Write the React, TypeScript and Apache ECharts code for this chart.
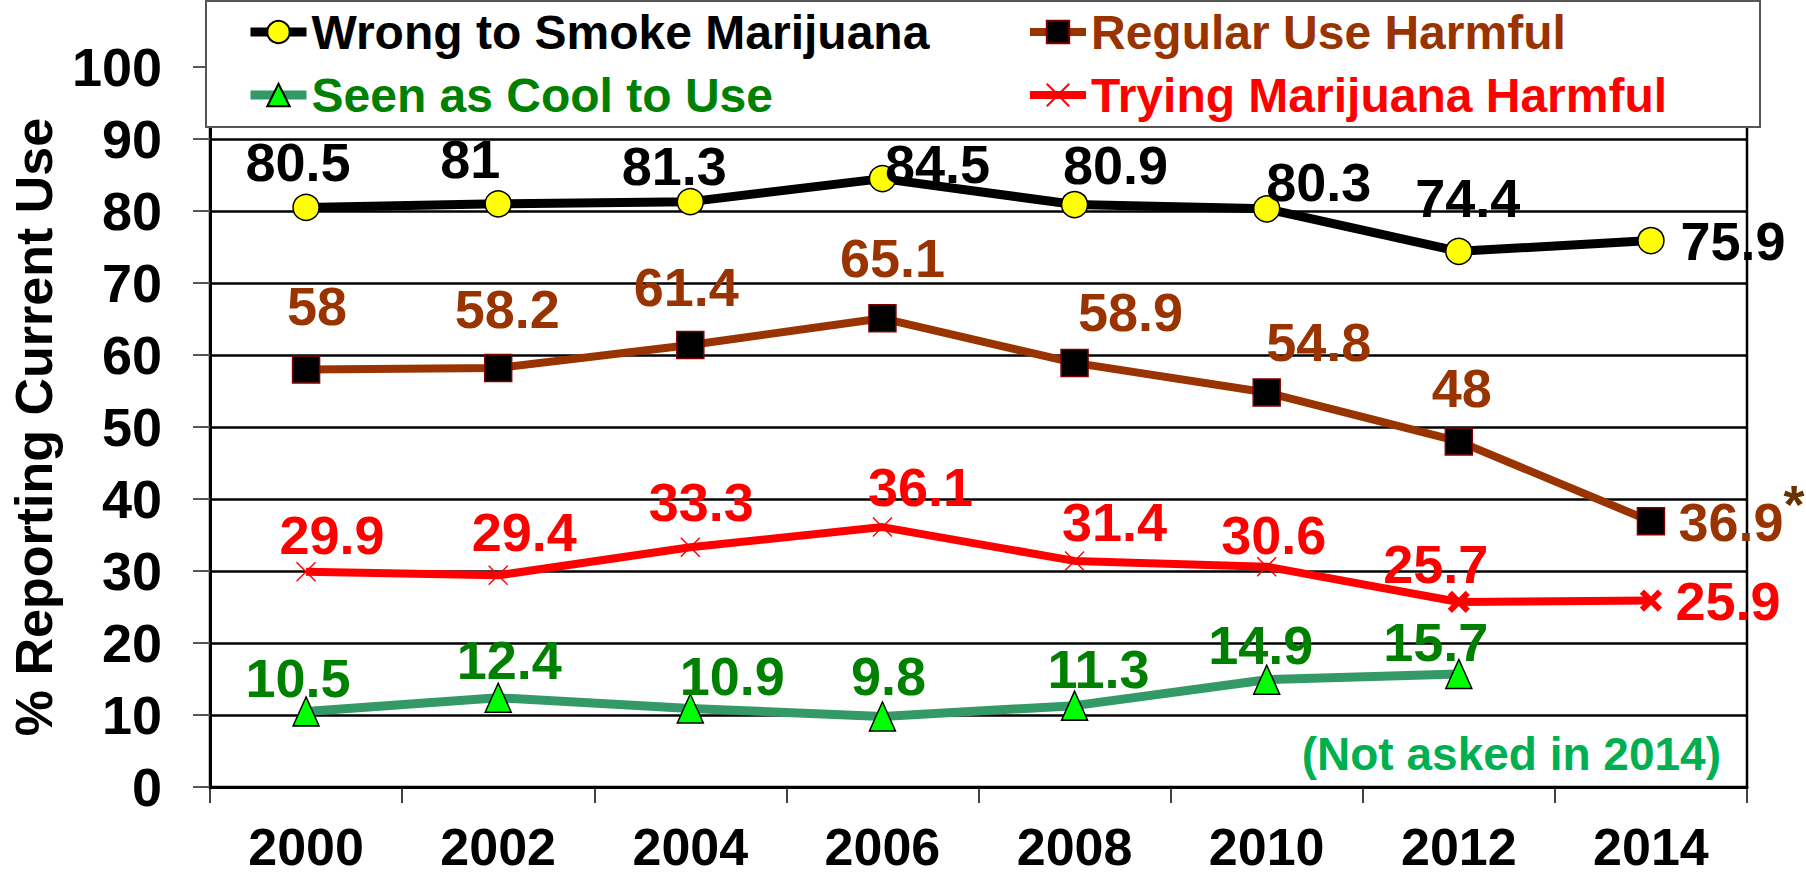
import React, { useEffect, useRef } from "react";
import * as echarts from "echarts";

// ---- data ----
const years = ["2000", "2002", "2004", "2006", "2008", "2010", "2012", "2014"];
const wrongToSmoke = [80.5, 81, 81.3, 84.5, 80.9, 80.3, 74.4, 75.9];
const regularUseHarmful = [58, 58.2, 61.4, 65.1, 58.9, 54.8, 48, 36.9];
const tryingHarmful = [29.9, 29.4, 33.3, 36.1, 31.4, 30.6, 25.7, 25.9];
const seenAsCool: (number | null)[] = [10.5, 12.4, 10.9, 9.8, 11.3, 14.9, 15.7, null];
const yMin = 0;
const yMax = 100;
const yStep = 10;
const notAskedNote = "(Not asked in 2014)";
const seriesNames = {
  wrong: "Wrong to Smoke Marijuana",
  regular: "Regular Use Harmful",
  cool: "Seen as Cool to Use",
  trying: "Trying Marijuana Harmful",
};

// ---- label placement (layout only) ----
const wrongOffsets = [[-8, -45], [-28, -45], [-16, -36], [55, -15], [41, -40], [52, -27], [9, -53], [82, 0]];
const regularOffsets = [[11, -63], [9, -59], [-4, -58], [10, -60], [56, -51], [52, -50], [3, -53], [80, 1]];
const tryingOffsets = [[26, -37], [26, -43], [11, -45], [38, -40], [40, -39], [7, -32], [-23, -38], [77, 0]];
const coolOffsets = [[-8, -33], [11, -38], [42, -33], [6, -40], [24, -37], [-6, -35], [-23, -32], [0, 0]];

const FONT = "'Liberation Sans', Arial, Helvetica, sans-serif";
const XMARK = "path://M0,0L20,20M20,0L0,20";

export default function App() {
  const ref = useRef<HTMLDivElement>(null);

  useEffect(() => {
    if (!ref.current) return;
    const chart = echarts.init(ref.current, undefined, { renderer: "svg" });

    const lbl = (color: string) => ({
      show: true,
      position: "inside" as const,
      color,
      fontSize: 54,
      fontWeight: "bold" as const,
      fontFamily: FONT,
      align: "center" as const,
      verticalAlign: "middle" as const,
    });

    const mk = (vals: (number | null)[], offs: number[][], extra?: (i: number) => any) =>
      vals.map((v, i) => ({
        value: v === null ? "-" : v,
        label: { offset: offs[i] },
        ...(extra ? extra(i) : {}),
      }));

    const option: any = {
      animation: false,
      backgroundColor: "#fff",
      textStyle: { fontFamily: FONT },
      grid: {
        left: 209,
        top: 67,
        right: 59,
        bottom: 93,
        show: true,
        borderColor: "#000",
        borderWidth: 2.5,
        backgroundColor: "transparent",
      },
      legend: [
        {
          data: [
            { name: seriesNames.wrong, textStyle: { color: "#000" } },
            { name: seriesNames.cool, textStyle: { color: "#008000" } },
          ],
          orient: "vertical",
          left: 246,
          top: 8,
          padding: 0,
          itemGap: 15,
          itemWidth: 56,
          itemHeight: 28,
          lineStyle: { width: 9 },
          textStyle: { fontSize: 48, fontWeight: "bold", fontFamily: FONT },
          selectedMode: false,
          z: 20,
        },
        {
          data: [
            { name: seriesNames.regular, textStyle: { color: "#993300" } },
            { name: seriesNames.trying, textStyle: { color: "#ff0000" } },
          ],
          orient: "vertical",
          left: 1026,
          top: 8,
          padding: 0,
          itemGap: 15,
          itemWidth: 56,
          itemHeight: 28,
          lineStyle: { width: 8 },
          textStyle: { fontSize: 48, fontWeight: "bold", fontFamily: FONT },
          selectedMode: false,
          z: 20,
        },
      ],
      graphic: [
        {
          type: "rect",
          shape: { x: 206, y: 1, width: 1554, height: 126 },
          style: { fill: "#fff", stroke: "#555", lineWidth: 2 },
          z: 10,
        },
        {
          type: "text",
          x: 1721,
          y: 754,
          style: {
            text: notAskedNote,
            fill: "#00b050",
            font: `bold 46px ${FONT}`,
            textAlign: "right",
            textVerticalAlign: "middle",
          },
          z: 10,
        },
      ],
      xAxis: {
        type: "category",
        data: years,
        boundaryGap: true,
        axisLine: { show: true, lineStyle: { color: "#000", width: 3 } },
        axisTick: { show: true, length: 16, lineStyle: { color: "#000", width: 1.5 } },
        axisLabel: {
          margin: 34,
          color: "#000",
          fontSize: 52,
          fontWeight: "bold",
          fontFamily: FONT,
        },
        splitLine: { show: false },
      },
      yAxis: {
        type: "value",
        min: yMin,
        max: yMax,
        interval: yStep,
        name: "% Reporting Current Use",
        nameLocation: "middle",
        nameGap: 150,
        nameRotate: 90,
        nameTextStyle: { color: "#000", fontSize: 52, fontWeight: "bold", fontFamily: FONT },
        axisLine: { show: true, lineStyle: { color: "#000", width: 3 } },
        axisTick: { show: true, length: 17, lineStyle: { color: "#555", width: 2 } },
        axisLabel: {
          margin: 48,
          color: "#000",
          fontSize: 54,
          fontWeight: "bold",
          fontFamily: FONT,
        },
        splitLine: { show: true, lineStyle: { color: "#000", width: 2.5 } },
      },
      series: [
        {
          name: seriesNames.cool,
          type: "line",
          data: mk(seenAsCool, coolOffsets),
          connectNulls: false,
          symbol: "triangle",
          symbolSize: [26, 29],
          lineStyle: { color: "#339966", width: 9 },
          itemStyle: { color: "#00ff00", borderColor: "#000", borderWidth: 1.5 },
          label: lbl("#008000"),
          z: 3,
        },
        {
          name: seriesNames.trying,
          type: "line",
          data: mk(tryingHarmful, tryingOffsets, (i) =>
            i >= 6
              ? { symbolSize: 18, itemStyle: { borderWidth: 6 } }
              : {}
          ),
          symbol: XMARK,
          symbolSize: 19,
          lineStyle: { color: "#ff0000", width: 8 },
          itemStyle: { color: "#ff0000", borderColor: "#ff0000", borderWidth: 1.5 },
          label: lbl("#ff0000"),
          z: 4,
        },
        {
          name: seriesNames.regular,
          type: "line",
          data: mk(regularUseHarmful, regularOffsets),
          symbol: "rect",
          symbolSize: 27,
          lineStyle: { color: "#993300", width: 8 },
          itemStyle: { color: "#000", borderColor: "#800000", borderWidth: 1.5 },
          label: lbl("#993300"),
          markPoint: {
            symbol: "circle",
            symbolSize: 1,
            itemStyle: { color: "transparent" },
            data: [{ coord: [years[7], regularUseHarmful[7]] }],
            label: {
              show: true,
              formatter: "*",
              position: "inside",
              offset: [143, -17],
              color: "#663300",
              fontSize: 54,
              fontWeight: "bold",
              fontFamily: FONT,
            },
          },
          z: 5,
        },
        {
          name: seriesNames.wrong,
          type: "line",
          data: mk(wrongToSmoke, wrongOffsets),
          symbol: "circle",
          symbolSize: 26,
          lineStyle: { color: "#000", width: 9 },
          itemStyle: { color: "#ffff00", borderColor: "#000", borderWidth: 1.5 },
          label: lbl("#000"),
          z: 6,
        },
      ],
    };

    chart.setOption(option);
    return () => chart.dispose();
  }, []);

  return (
    <div
      ref={ref}
      style={{ position: "fixed", left: 0, top: 0, width: 1806, height: 880, background: "#fff" }}
    />
  );
}
